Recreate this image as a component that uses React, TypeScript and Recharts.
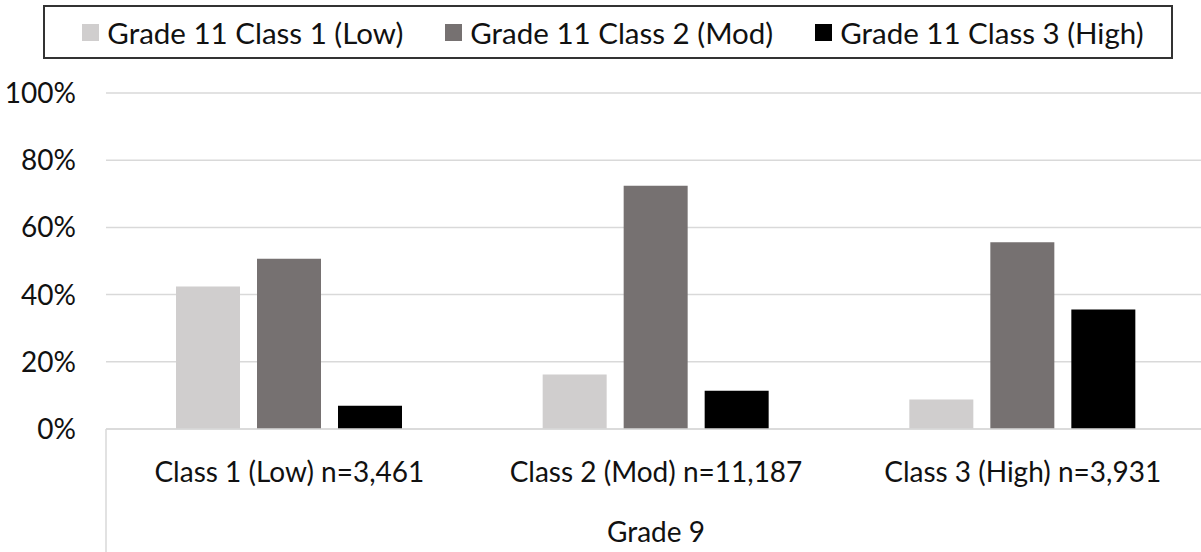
import { Bar, BarChart, CartesianGrid, Legend, XAxis, YAxis } from "recharts";

// Grade 9 class membership (categories) vs. Grade 11 class share, in percent
const categories = [
  "Class 1 (Low) n=3,461",
  "Class 2 (Mod) n=11,187",
  "Class 3 (High) n=3,931",
];
const groupLabel = "Grade 9";

const seriesNames = [
  "Grade 11 Class 1 (Low)",
  "Grade 11 Class 2 (Mod)",
  "Grade 11 Class 3 (High)",
];
const seriesKeys = ["low", "mod", "high"];
const seriesColors = ["#d0cece", "#767171", "#000000"];

const lowShare = [42.4, 16.2, 8.8];
const modShare = [50.7, 72.4, 55.6];
const highShare = [6.9, 11.4, 35.6];

const yTicks = [0, 20, 40, 60, 80, 100];

const FONT = "Lato, 'Open Sans', sans-serif";
const FONT_SIZE = 28;
const LEGEND_FONT_SIZE = 29.5;
const TEXT = "#111";
const GRID = "#d9d9d9";
const CLASS_TICK_MARGIN = 33;

const data = categories.map((name, i) => ({
  name,
  group: groupLabel,
  low: lowShare[i],
  mod: modShare[i],
  high: highShare[i],
}));

// category label, plus the divider that runs down the left edge of the group axis
function ClassTick(props: any) {
  const { x, y, payload, index } = props;
  const left = x - (payload?.offset ?? 0);
  return (
    <g>
      {index === 0 && (
        <line
          x1={left}
          x2={left}
          y1={y - CLASS_TICK_MARGIN}
          y2={y + 200}
          stroke={GRID}
          strokeWidth={1.5}
        />
      )}
      <text
        x={x}
        y={y}
        dy="0.71em"
        textAnchor="middle"
        fontFamily={FONT}
        fontSize={FONT_SIZE}
        fill={TEXT}
      >
        {payload.value}
      </text>
    </g>
  );
}

function LegendBox() {
  return (
    <div
      style={{
        boxSizing: "border-box",
        width: 1130,
        height: 54,
        paddingLeft: 10,
        border: "2px solid #333",
        background: "#fff",
        display: "flex",
        alignItems: "center",
        justifyContent: "center",
        gap: 42,
        fontFamily: FONT,
        fontSize: LEGEND_FONT_SIZE,
        color: TEXT,
      }}
    >
      {seriesNames.map((name, i) => (
        <div key={name} style={{ display: "flex", alignItems: "center" }}>
          <span
            style={{
              display: "inline-block",
              width: 17,
              height: 17,
              background: seriesColors[i],
              marginRight: 8,
            }}
          />
          <span>{name}</span>
        </div>
      ))}
    </div>
  );
}

export default function App() {
  return (
    <div
      style={{
        position: "absolute",
        left: 0,
        top: 0,
        width: 1201,
        height: 552,
        overflow: "hidden",
        background: "#fff",
      }}
    >
      <BarChart
        width={1210}
        height={552}
        data={data}
        margin={{ top: 93, right: 4, left: 0, bottom: 0 }}
        barSize={64}
        barGap={17}
      >
        <CartesianGrid xAxisId="cls" vertical={false} stroke={GRID} strokeWidth={1.5} />
        <XAxis
          xAxisId="cls"
          dataKey="name"
          height={70}
          axisLine={{ stroke: GRID, strokeWidth: 1.5 }}
          tickLine={false}
          tickSize={0}
          tickMargin={CLASS_TICK_MARGIN}
          tick={<ClassTick />}
          interval={0}
        />
        <XAxis
          xAxisId="grade"
          dataKey="group"
          allowDuplicatedCategory={false}
          height={53}
          axisLine={false}
          tickLine={false}
          tickSize={0}
          tickMargin={23}
          tick={{ fontFamily: FONT, fontSize: FONT_SIZE, fill: TEXT }}
        />
        <YAxis
          width={106}
          domain={[0, 100]}
          ticks={yTicks}
          tickFormatter={(v: number) => `${v}%`}
          axisLine={false}
          tickLine={false}
          tickSize={0}
          tickMargin={30}
          tick={{ fontFamily: FONT, fontSize: FONT_SIZE, fill: TEXT }}
        />
        <Legend
          layout="horizontal"
          verticalAlign="middle"
          align="center"
          wrapperStyle={{ top: 5, left: 43, width: 1130 }}
          content={() => <LegendBox />}
        />
        {seriesKeys.map((key, i) => (
          <Bar
            key={key}
            xAxisId="cls"
            dataKey={key}
            name={seriesNames[i]}
            fill={seriesColors[i]}
            isAnimationActive={false}
          />
        ))}
      </BarChart>
    </div>
  );
}
